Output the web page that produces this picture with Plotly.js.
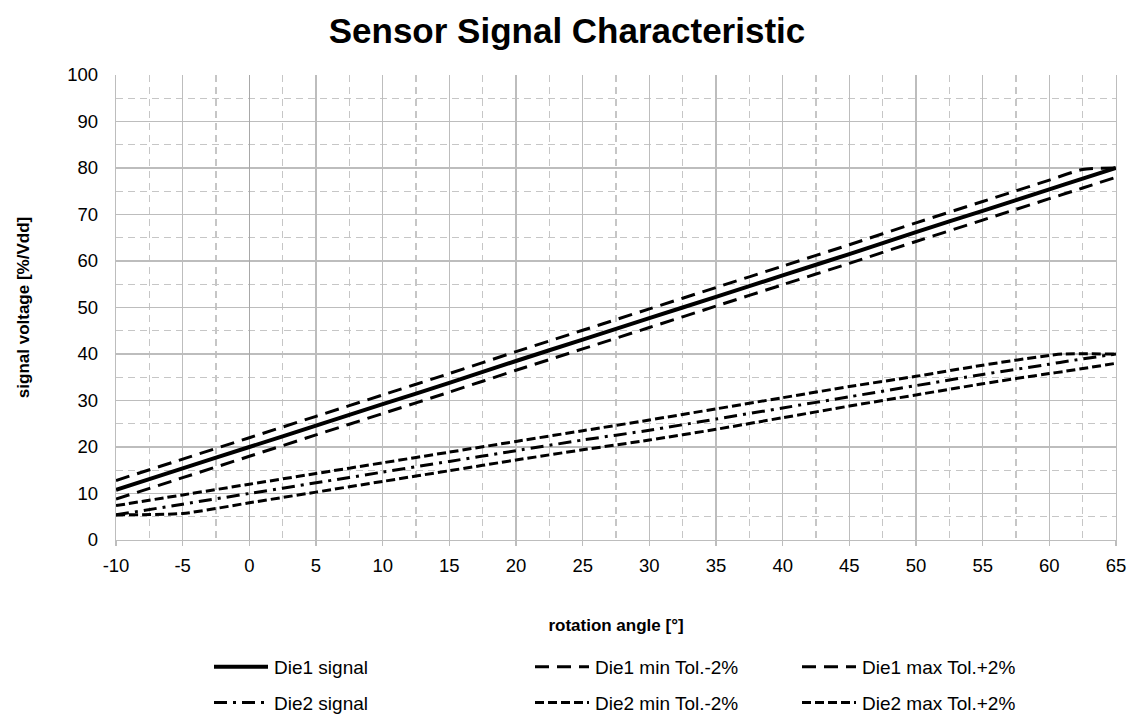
<!DOCTYPE html>
<html>
<head>
<meta charset="utf-8">
<script src="https://cdn.plot.ly/plotly-3.0.1.min.js"></script>
<style>html,body{margin:0;padding:0;background:#fff;}#chart{width:1134px;height:722px;}</style>
</head>
<body>
<div id="chart"></div>
<script>
// Data
const die1Angle = [-10,-5,0,5,10,15,20,25,30,35,40,45,50,55,60,62.5,65];
const die1Signal = [10.8,15.4,20,24.6,29.2,33.8,38.5,43.1,47.7,52.3,56.9,61.5,66.2,70.8,75.4,77.7,80.0];
const die1Min = [8.8,13.4,18,22.6,27.2,31.8,36.5,41.1,45.7,50.3,54.9,59.5,64.2,68.8,73.4,75.7,78.0];
const die1Max = [12.8,17.4,22,26.6,31.2,35.8,40.5,45.1,49.7,54.3,58.9,63.5,68.2,72.8,77.4,79.7,80.0];

const die2Angle = [-10,-5,0,5,10,15,20,25,30,35,40,45,50,55,60,61,65];
const die2Signal = [5.4,7.7,10,12.3,14.6,16.9,19.2,21.5,23.6,26.0,28.4,30.8,33.2,35.6,37.8,38.3,40.0];
const die2Min = [5.4,5.7,8,10.3,12.6,14.9,17.2,19.4,21.5,23.8,26.3,28.8,31.2,33.6,35.8,36.2,38.0];
const die2Max = [7.4,9.7,12,14.3,16.6,18.9,21.2,23.5,25.8,28.2,30.6,33.0,35.2,37.6,39.7,40.0,40.0];

const xTickValues = [-10,-5,0,5,10,15,20,25,30,35,40,45,50,55,60,65];
const xTickLabels = ['-10','-5','0','5','10','15','20','25','30','35','40','45','50','55','60','65'];

const seriesNames = ['Die1 signal','Die1 min Tol.-2%','Die1 max Tol.+2%','Die2 signal','Die2 min Tol.-2%','Die2 max Tol.+2%'];

function tr(x, y, name, dash, width, legend, group) {
  return {
    x: x, y: y, name: name, type: 'scatter', mode: 'lines',
    line: {color: '#000', width: width, dash: dash, shape: 'spline', smoothing: 0.6},
    legend: legend, legendgroup: group, hoverinfo: 'skip'
  };
}

const longDash = '14px,8px';
const dashDot = '13px,6px,3px,6px';
const shortDash = '9px,4px';

const data = [
  tr(die1Angle, die1Signal, seriesNames[0], 'solid', 4, 'legend', 'a'),
  tr(die2Angle, die2Signal, seriesNames[3], dashDot, 3, 'legend', 'b'),
  tr(die1Angle, die1Min, seriesNames[1], longDash, 3, 'legend2', 'c'),
  tr(die2Angle, die2Min, seriesNames[4], shortDash, 3, 'legend2', 'd'),
  tr(die1Angle, die1Max, seriesNames[2], longDash, 3, 'legend3', 'e'),
  tr(die2Angle, die2Max, seriesNames[5], shortDash, 3, 'legend3', 'f')
];

const font = 'Liberation Sans, Arial, sans-serif';
const gridC = '#bdbdbd';
const minorC = '#c6c6c6';
const legBase = {orientation: 'v', y: -0.232, yanchor: 'top', xanchor: 'left', itemwidth: 55,
  tracegroupgap: 8, font: {family: font, size: 19, color: '#000'}, bgcolor: 'rgba(0,0,0,0)'};

const layout = {
  width: 1134, height: 722,
  margin: {l: 116, r: 18, t: 75, b: 182, autoexpand: false},
  paper_bgcolor: '#fff', plot_bgcolor: '#fff',
  font: {family: font, color: '#000'},
  title: {text: '<b>Sensor Signal Characteristic</b>', font: {family: font, size: 35, color: '#000'},
    x: 0.5, xanchor: 'center', y: 0.975, yanchor: 'top'},
  xaxis: {
    range: [-10, 65], tickmode: 'array', tickvals: xTickValues, ticktext: xTickLabels,
    showgrid: true, gridcolor: gridC, gridwidth: 1.3,
    zeroline: true, zerolinecolor: '#a8a8a8', zerolinewidth: 1.5,
    ticks: 'outside', ticklen: 5, tickcolor: gridC, tickwidth: 1.3, ticklabelstandoff: 3,
    showline: true, linecolor: gridC, linewidth: 1.3,
    minor: {tickmode: 'linear', tick0: -10, dtick: 2.5, showgrid: true, gridcolor: minorC, griddash: '7px,5px', gridwidth: 1.2},
    tickfont: {family: font, size: 18.5, color: '#000'},
    title: {text: '<b>rotation angle [°]</b>', font: {family: font, size: 17, color: '#000'}, standoff: 44},
    fixedrange: true
  },
  yaxis: {
    range: [0, 100], dtick: 10, showgrid: true, gridcolor: gridC, gridwidth: 1.3,
    zeroline: false, showline: true, linecolor: gridC, linewidth: 1.3, mirror: true,
    ticks: '', ticklabelstandoff: 13,
    minor: {tickmode: 'linear', tick0: 0, dtick: 5, showgrid: true, gridcolor: minorC, griddash: '7px,5px', gridwidth: 1.2},
    tickfont: {family: font, size: 18.5, color: '#000'},
    title: {text: '<b>signal voltage [%/Vdd]</b>', font: {family: font, size: 17, color: '#000'}, standoff: 33},
    fixedrange: true
  },
  showlegend: true,
  legend: Object.assign({}, legBase, {x: 0.093}),
  legend2: Object.assign({}, legBase, {x: 0.414}),
  legend3: Object.assign({}, legBase, {x: 0.681})
};

Plotly.newPlot('chart', data, layout, {displayModeBar: false, staticPlot: true}).then(function (gd) {
  // lengthen the legend line samples to the reference's ~54px
  gd.querySelectorAll('.legendlines path').forEach(function (p) {
    p.setAttribute('d', 'M5,0h54');
  });
});
</script>
</body>
</html>
